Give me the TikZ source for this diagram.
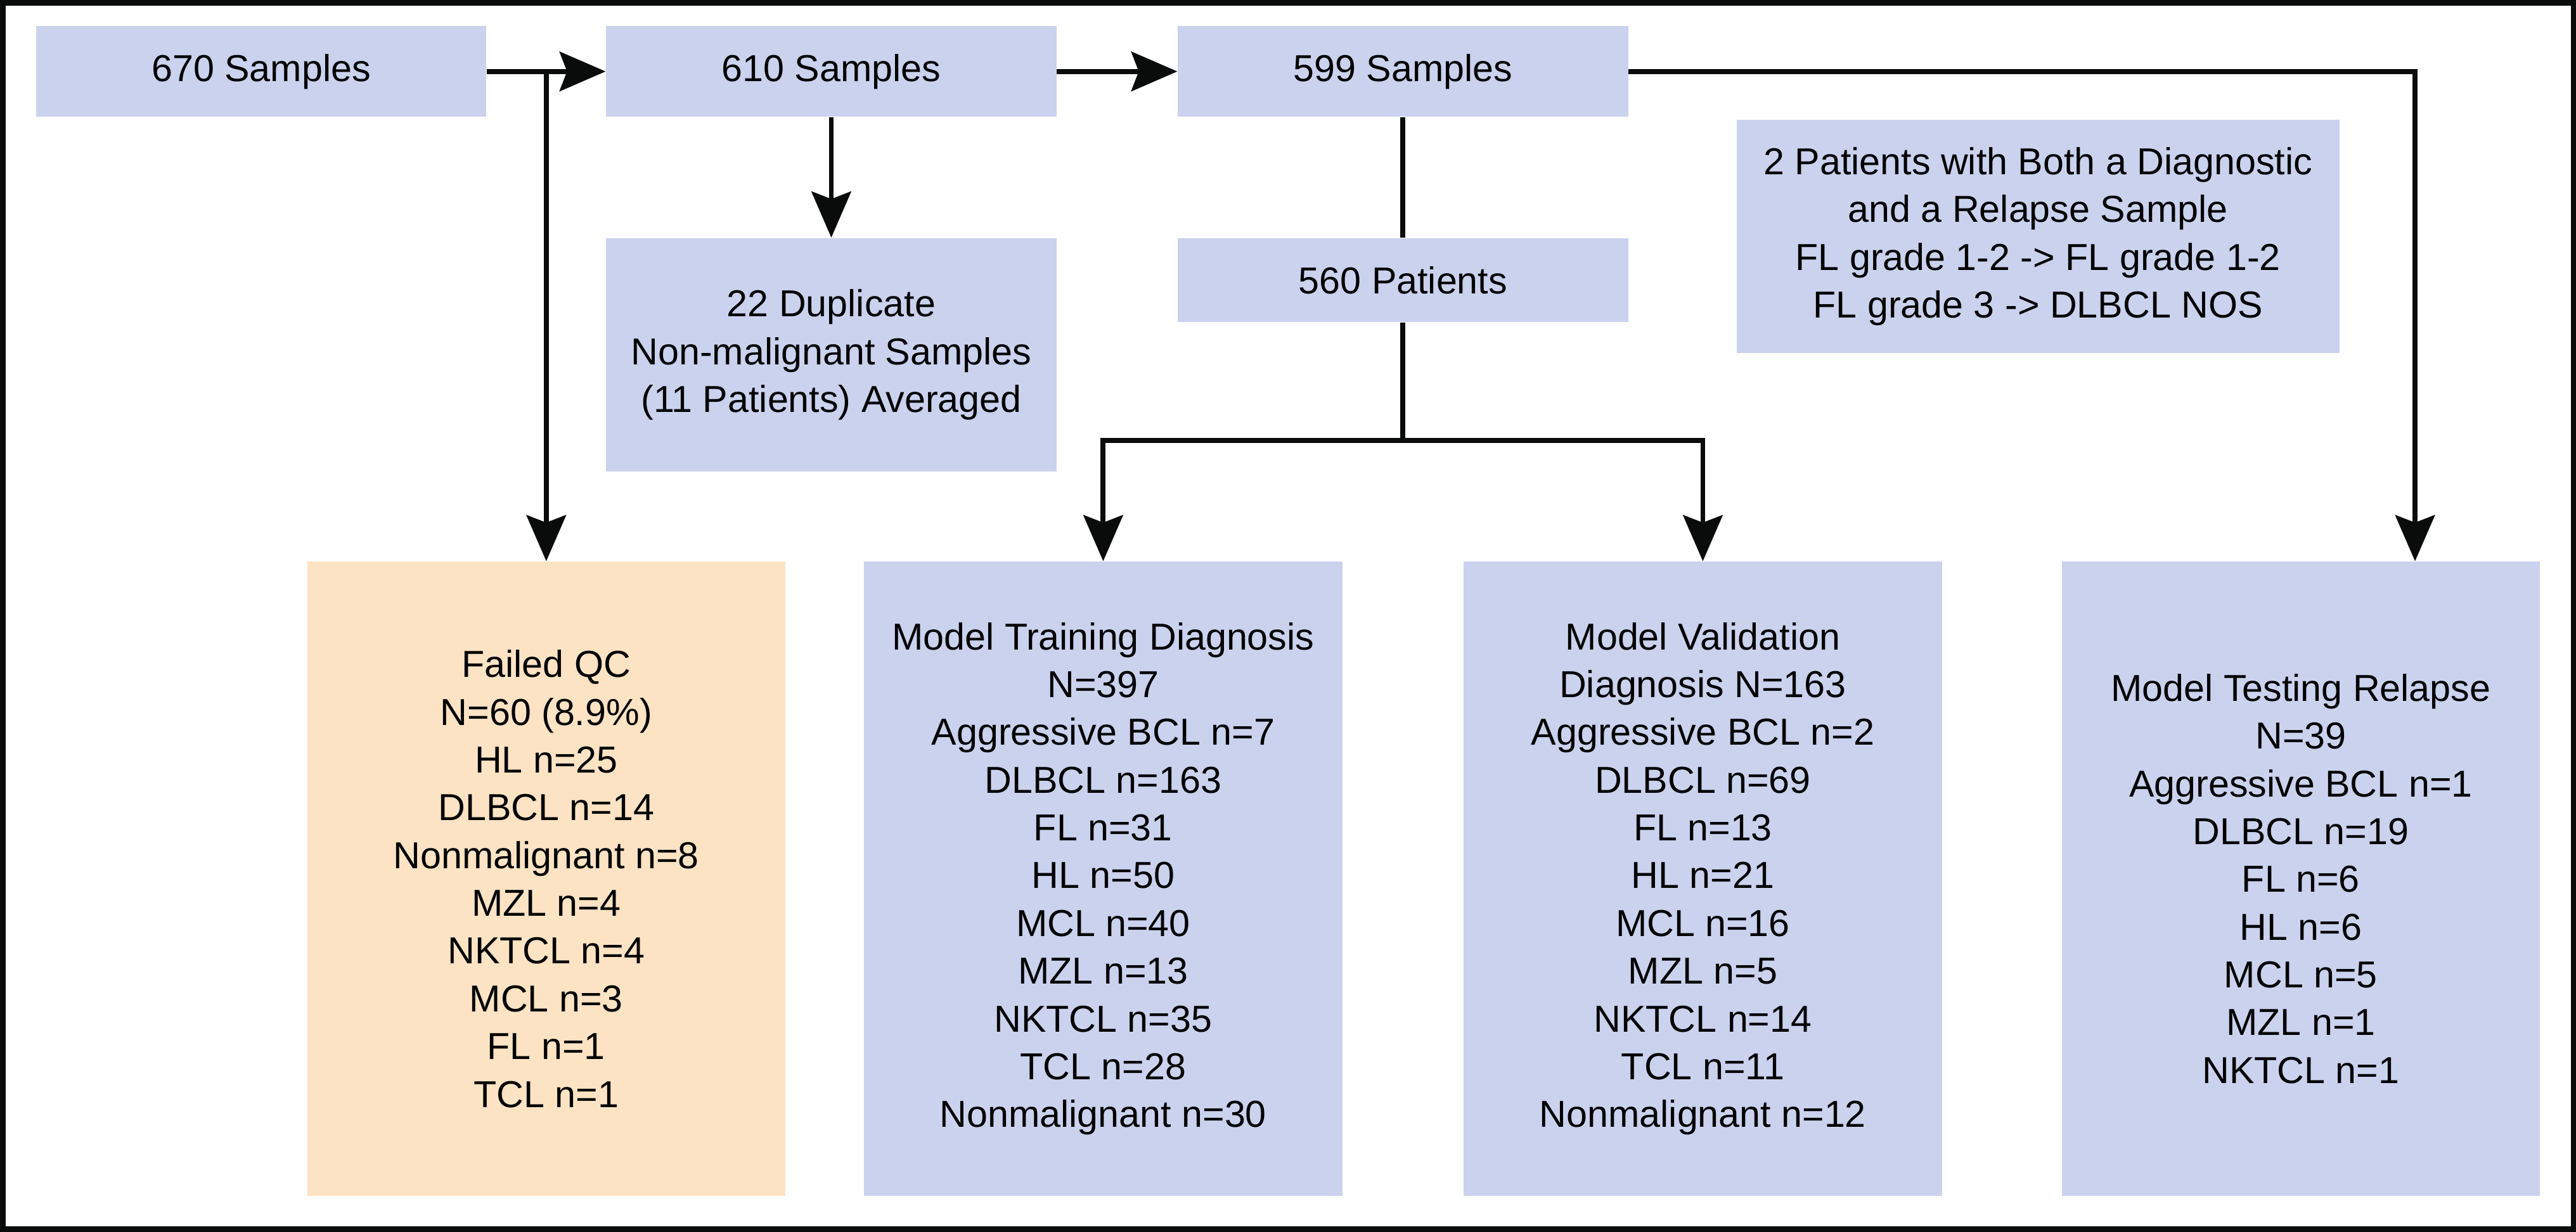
\documentclass[tikz,border=0pt]{standalone}
\usepackage{fontspec}
\setmainfont{Liberation Sans}
\usepackage{xcolor}
\usetikzlibrary{
    positioning,
    arrows.meta,
}
\definecolor{boxblue}{RGB}{203,210,238}
\definecolor{boxorange}{RGB}{251,227,196}
\definecolor{inkblack}{RGB}{10,12,11}
\tikzset{
    % Box styles
    flowbox/.style={rectangle, fill=boxblue, inner sep=0pt, align=center,
                    font=\fontsize{13}{16.55}\selectfont},
    small box/.style={flowbox, minimum width=5.48cm, minimum height=1.1cm},
    tall box/.style={flowbox, minimum width=5.82cm, minimum height=7.72cm},
    % Arrow styles
    link/.style={draw=inkblack, line width=1.75pt},
    arrow/.style={link, -{Stealth[length=5.6mm, width=4.8mm, inset=0.9mm]}},
}

\begin{document}
\begin{tikzpicture}
    \fill[white] (0,0) rectangle (31.36,-15.0);
    \useasboundingbox (0,0) rectangle (31.36,-15.0);
    \draw[draw=inkblack, line width=0.066cm] (0.033,-0.033) rectangle (31.327,-14.967);

    % Sample counts
    \node[small box] (s670) at (3.18, -0.87) {670 Samples};
    \node[small box] (s610) at (10.12, -0.87) {610 Samples};
    \node[small box] (s599) at (17.08, -0.87) {599 Samples};
    \node[small box, minimum height=1.02cm] (p560) at (17.08, -3.41) {560 Patients};
    \node[small box, minimum height=2.84cm] (dup) at (10.12, -4.32)
        {22 Duplicate\\Non-malignant Samples\\(11 Patients) Averaged};
    \node[flowbox, minimum width=7.34cm, minimum height=2.84cm] (both) at (24.81, -2.88)
        {2 Patients with Both a Diagnostic\\and a Relapse Sample\\FL grade 1-2 -> FL grade 1-2\\FL grade 3 -> DLBCL NOS};

    % Cohorts
    \node[tall box, fill=boxorange] (qc) at (6.65, -10.70)
        {Failed QC\\N=60 (8.9\%)\\HL n=25\\DLBCL n=14\\Nonmalignant n=8\\MZL n=4\\NKTCL n=4\\MCL n=3\\FL n=1\\TCL n=1};
    \node[tall box] (train) at (13.43, -10.70)
        {Model Training Diagnosis\\N=397\\Aggressive BCL n=7\\DLBCL n=163\\FL n=31\\HL n=50\\MCL n=40\\MZL n=13\\NKTCL n=35\\TCL n=28\\Nonmalignant n=30};
    \node[tall box] (valid) at (20.73, -10.70)
        {Model Validation\\Diagnosis N=163\\Aggressive BCL n=2\\DLBCL n=69\\FL n=13\\HL n=21\\MCL n=16\\MZL n=5\\NKTCL n=14\\TCL n=11\\Nonmalignant n=12};
    \node[tall box] (test) at (28.01, -10.70)
        {Model Testing Relapse\\N=39\\Aggressive BCL n=1\\DLBCL n=19\\FL n=6\\HL n=6\\MCL n=5\\MZL n=1\\NKTCL n=1};

    \draw[arrow] (s670) -- (s610);
    \draw[arrow] (s610) -- (s599);
    \draw[arrow] (s610) -- (dup);
    \draw[arrow] (qc.north |- s670.east) -- (qc);
    \draw[arrow] (s599.east) -| ([xshift=1.39cm]test.north);

    % Patient split
    \coordinate (split) at (17.08, -5.36);
    \draw[link] (s599) -- (p560);
    \draw[link] (p560) -- (split);
    \draw[arrow] (split) -| (train);
    \draw[arrow] (split) -| (valid);
\end{tikzpicture}
\end{document}
